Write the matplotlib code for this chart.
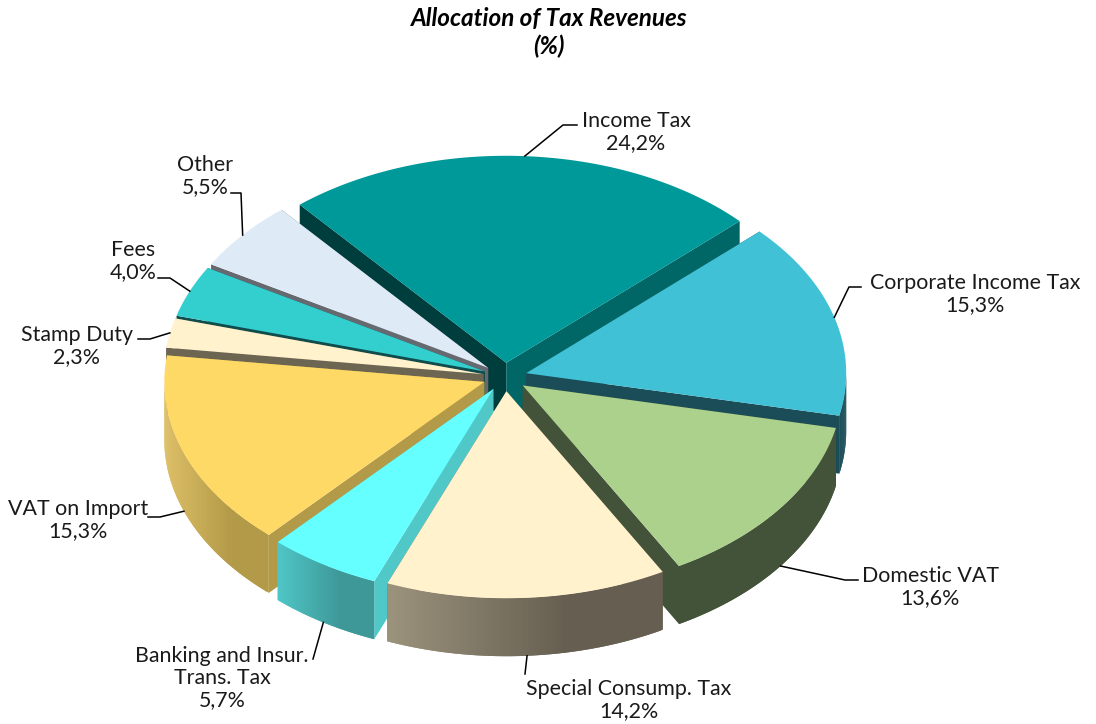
#3D looking exploded pie, drawn by hand on a pixel sized axes
import numpy as np
import matplotlib
matplotlib.use("Agg")
import matplotlib.pyplot as plt
from matplotlib.colors import to_rgb

#data, clockwise from the Income Tax slice
labels = ["Income Tax", "Corporate Income Tax", "Domestic VAT", "Special Consump. Tax",
          "Banking and Insur.\nTrans. Tax", "VAT on Import", "Stamp Duty", "Fees", "Other"]
values = [24.2, 15.3, 13.6, 14.2, 5.7, 15.3, 2.3, 4.0, 5.5]

#colours of the top, the two cut faces and the outer wall (left and right end)
top_colors = ["#009999", "#40C1D6", "#ABD18D", "#FFF2CC", "#66FFFF", "#FFD966", "#FFF2CC", "#33CFCF", "#DEEBF7"]
start_face = ["#003D3D", "#1A4D57", "#43533A", "#665E50", "#50C8C8", "#B39A48", "#6B6552", "#104C4C", "#666A70"]
end_face = ["#006666", "#1A4D57", "#43533A", "#665E50", "#50C8C8", "#B39A48", "#6B6552", "#104C4C", "#666A70"]
wall_left = ["#006666", "#1A4D57", "#43533A", "#9C937D", "#4FC6C6", "#DDBF66", "#9C937D", "#2A9090", "#9AA4AC"]
wall_right = ["#006666", "#1A4D57", "#43533A", "#665E50", "#3E9898", "#B39A48", "#6B6552", "#2A9090", "#9AA4AC"]

#pie geometry in pixels
cx, cy = 505, 377
rx, ry = 320, 207
depth = 58
explode = 22
start_angle = -40.2
draw_order = [0, 8, 7, 6, 5, 1, 2, 4, 3]

#text layout: elbow of the leader, end of the leader, text centre
elbows = [(563, 125), (849, 287), (845, 580), (525, 674), (313, 659), (160, 517), (150, 339), (170, 278), (241, 193)]
line_ends = [(577, 125), (861, 287), (858, 580), (525, 674), (313, 659), (148, 517), (138, 339), (158, 278), (231, 193)]
text_pos = [(636, 132), (975, 294), (930, 587), (629, 700), (222, 678), (78, 520), (77, 346), (133, 261), (205, 176)]

font = "Lato"

fig = plt.figure(figsize=(10.96, 7.24), dpi=100)
ax = fig.add_axes([0, 0, 1, 1])
ax.set_xlim(0, 1096)
ax.set_ylim(724, 0)
ax.axis("off")

#slice angles come from the values
cum = np.cumsum([0] + values)
total = cum[-1]
starts = start_angle + 360 * cum[:-1] / total
ends = start_angle + 360 * cum[1:] / total

def rim(ox, oy, ang):
    a = np.radians(ang)
    return ox + rx * np.sin(a), oy - ry * np.cos(a)

for i in draw_order:
    z = 1 + draw_order.index(i)
    mid = np.radians((starts[i] + ends[i]) / 2)
    ox = cx + explode * np.sin(mid)
    oy = cy - explode * ry / rx * np.cos(mid)
    ang = np.linspace(starts[i], ends[i], 120)
    xs, ys = rim(ox, oy, ang)

    #cut faces
    ax.fill([ox, xs[0], xs[0], ox], [oy, ys[0], ys[0] + depth, oy + depth],
            color=start_face[i], lw=0, zorder=z)
    ax.fill([ox, xs[-1], xs[-1], ox], [oy, ys[-1], ys[-1] + depth, oy + depth],
            color=end_face[i], lw=0, zorder=z)

    #outer wall, only the front half shows. overlapping quads so no seams
    front = np.cos(np.radians(ang)) < 0
    if front.sum() > 2:
        wx, wy = xs[front], ys[front]
        c0 = np.array(to_rgb(wall_left[i]))
        c1 = np.array(to_rgb(wall_right[i]))
        x0, x1 = wx.min(), wx.max()
        for k in range(len(wx) - 1):
            k2 = min(k + 2, len(wx) - 1)
            t = min(1, ((wx[k] + wx[k + 1]) / 2 - x0) / (0.65 * (x1 - x0)))
            ax.fill([wx[k], wx[k2], wx[k2], wx[k]],
                    [wy[k], wy[k2], wy[k2] + depth, wy[k] + depth],
                    color=c0 + (c1 - c0) * t, lw=0, zorder=z)

    #top
    ax.fill(np.r_[ox, xs], np.r_[oy, ys], color=top_colors[i], lw=0, zorder=z + 0.5)

    #leader line starts on the rim at the middle of the slice
    lx, ly = rim(ox, oy, np.degrees(mid))
    if np.cos(mid) < 0:
        ly += depth
    ax.plot([lx, elbows[i][0], line_ends[i][0]], [ly, elbows[i][1], line_ends[i][1]],
            color="black", lw=1.1, zorder=20)

    pct = f"{values[i]:.1f}%".replace(".", ",")
    ax.text(text_pos[i][0], text_pos[i][1], labels[i] + "\n" + pct, ha="center", va="center",
            fontsize=15.4, family=font, color="#1a1a1a", linespacing=1.15, zorder=21)

ax.text(549, 32.5, "Allocation of Tax Revenues\n(%)", ha="center", va="center", fontsize=17.5,
        family=font, weight="bold", style="italic", color="black", linespacing=1.2)

fig.savefig("out.png", dpi=100)
